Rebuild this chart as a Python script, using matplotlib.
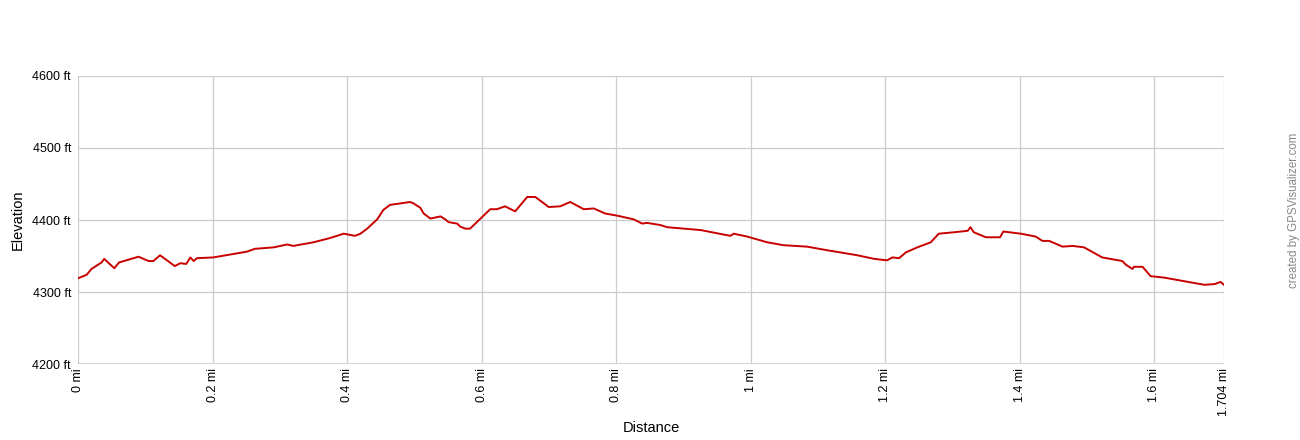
import matplotlib
matplotlib.use("Agg")
import matplotlib.pyplot as plt

plt.rcParams["font.family"] = ["Liberation Sans", "DejaVu Sans"]

# distance (mi) and elevation (ft)
distance_mi = [
    0.000, 0.013, 0.020, 0.035, 0.039, 0.054, 0.061, 0.090, 0.105, 0.112,
    0.122, 0.144, 0.152, 0.161, 0.167, 0.172, 0.177, 0.201, 0.251, 0.263,
    0.291, 0.311, 0.320, 0.350, 0.375, 0.395, 0.412, 0.420, 0.430, 0.445,
    0.454, 0.464, 0.479, 0.494, 0.499, 0.509, 0.514, 0.524, 0.539, 0.546,
    0.551, 0.564, 0.568, 0.576, 0.583, 0.613, 0.623, 0.635, 0.650, 0.668,
    0.680, 0.700, 0.717, 0.732, 0.752, 0.767, 0.784, 0.802, 0.826, 0.839,
    0.846, 0.866, 0.876, 0.926, 0.970, 0.975, 0.995, 1.025, 1.049, 1.084,
    1.114, 1.159, 1.184, 1.203, 1.211, 1.221, 1.231, 1.248, 1.268, 1.280,
    1.303, 1.323, 1.327, 1.332, 1.350, 1.371, 1.376, 1.402, 1.424, 1.434,
    1.444, 1.464, 1.479, 1.496, 1.523, 1.553, 1.558, 1.568, 1.570, 1.583,
    1.595, 1.615, 1.645, 1.675, 1.690, 1.699, 1.704,
]
elevation_ft = [
    4319, 4324, 4332, 4341, 4346, 4333, 4341, 4349, 4343, 4343,
    4351, 4336, 4340, 4339, 4348, 4343, 4347, 4348, 4356, 4360,
    4362, 4366, 4364, 4369, 4375, 4381, 4378, 4381, 4388, 4401,
    4414, 4421, 4423, 4425, 4423, 4417, 4409, 4402, 4405, 4401,
    4397, 4395, 4391, 4388, 4388, 4415, 4415, 4419, 4412, 4432,
    4432, 4418, 4419, 4425, 4415, 4416, 4409, 4406, 4401, 4395,
    4396, 4393, 4390, 4386, 4378, 4381, 4377, 4369, 4365, 4363,
    4358, 4351, 4346, 4344, 4348, 4347, 4355, 4362, 4369, 4381,
    4383, 4385, 4390, 4383, 4376, 4376, 4384, 4381, 4377, 4371,
    4371, 4363, 4364, 4362, 4348, 4343, 4338, 4332, 4335, 4335,
    4322, 4320, 4315, 4310, 4311, 4314, 4310,
]

x_ticks = [0, 0.2, 0.4, 0.6, 0.8, 1.0, 1.2, 1.4, 1.6, 1.704]
x_tick_labels = ["0 mi", "0.2 mi", "0.4 mi", "0.6 mi", "0.8 mi", "1 mi",
                 "1.2 mi", "1.4 mi", "1.6 mi", "1.704 mi"]
y_ticks = [4200, 4300, 4400, 4500, 4600]
y_tick_labels = ["4200 ft", "4300 ft", "4400 ft", "4500 ft", "4600 ft"]

fig = plt.figure(figsize=(13, 4.4), dpi=100)
ax = fig.add_axes([0.06, 0.1727, 0.8815, 0.6546])

ax.plot(distance_mi, elevation_ft, color="#c80000", lw=1.4,
        solid_joinstyle="round", zorder=3)

ax.set_xlim(0, 1.704)
ax.set_ylim(4200, 4600)
ax.set_xticks(x_ticks)
ax.set_xticklabels(x_tick_labels, rotation=90, fontsize=9)
ax.set_yticks(y_ticks)
ax.set_yticklabels(y_tick_labels, fontsize=9)
ax.tick_params(axis="x", length=0, pad=3)
ax.tick_params(axis="y", length=0, pad=5)
ax.grid(True, color="#cccccc", lw=0.9)
for s in ax.spines.values():
    s.set_visible(False)
ax.axvline(0, color="#cccccc", lw=1.2)
ax.axhline(4200, color="#cccccc", lw=1.2)

ax.set_xlabel("Distance", fontsize=10.5, va="center")
ax.xaxis.set_label_coords(0.5, -0.222)
ax.set_ylabel("Elevation", fontsize=10.5, va="center")
ax.yaxis.set_label_coords(-0.053, 0.5)

fig.text(0.9955, 0.523, "created by GPSVisualizer.com", rotation=90,
         fontsize=8.3, color="#888888", ha="center", va="center")

fig.savefig("out.png", dpi=100)
